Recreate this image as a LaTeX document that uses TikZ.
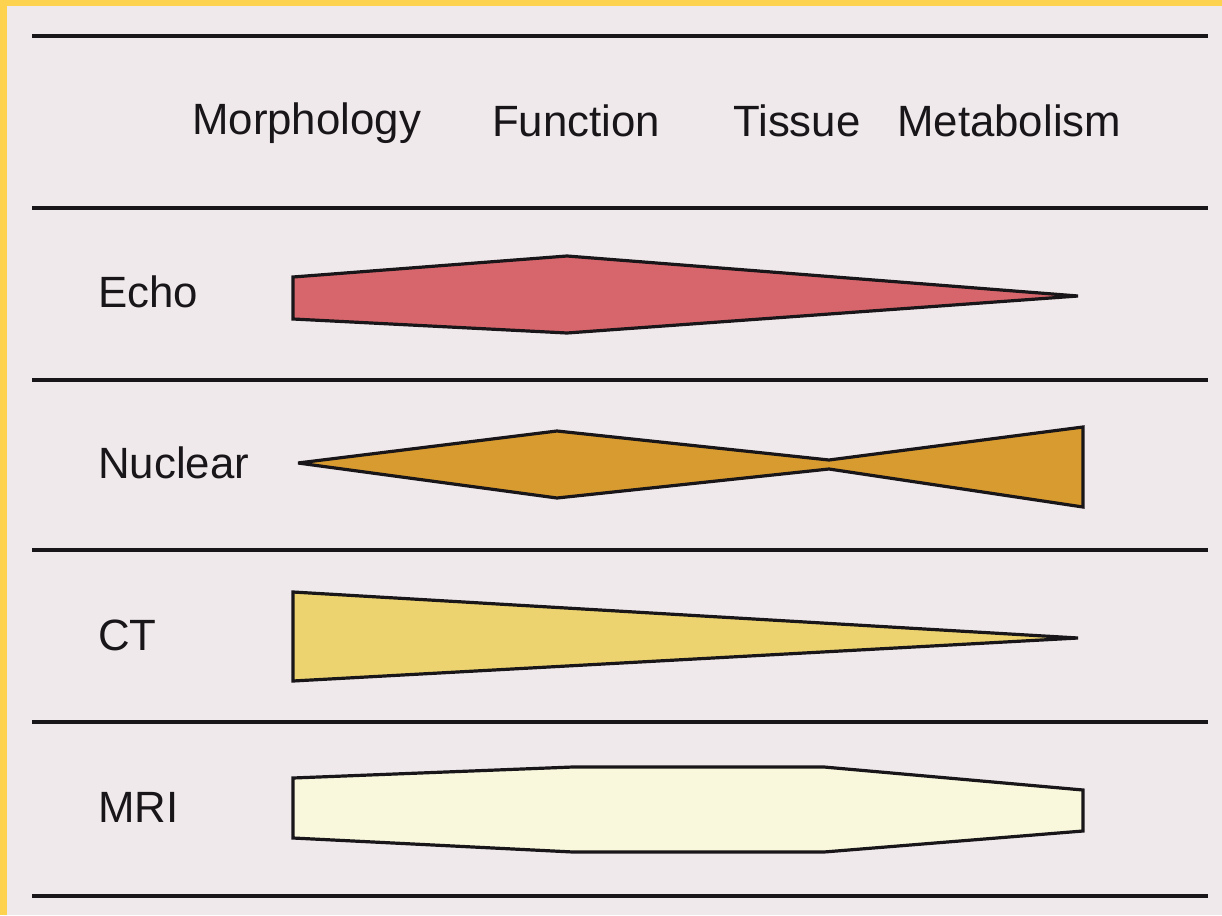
\documentclass[tikz,border=0pt]{standalone}
\usepackage{fontspec}
\setmainfont{Liberation Sans}
\definecolor{paper}{RGB}{240,233,236}
\definecolor{frame}{RGB}{253,210,78}
\definecolor{echocol}{RGB}{215,102,108}
\definecolor{nuccol}{RGB}{216,155,48}
\definecolor{ctcol}{RGB}{237,211,112}
\definecolor{mricol}{RGB}{249,247,220}
\definecolor{ink}{RGB}{25,22,25}
\tikzset{
  rule/.style={draw=ink, line width=3.2pt},
  band/.style={draw=ink, line width=3.2pt, line join=miter, miter limit=6},
  head/.style={anchor=base west, inner sep=0pt, text=ink, font=\fontsize{43.8}{50}\selectfont},
  rowlab/.style={anchor=base west, inner sep=0pt, text=ink, font=\fontsize{43.8}{50}\selectfont},
}
\begin{document}
\begin{tikzpicture}[x=1pt,y=-1pt]
\useasboundingbox (0,0) rectangle (1222,915);
\fill[frame] (0,0) rectangle (1222,915);
\fill[paper] (7,6) rectangle (1222,915);
% rules
\foreach \yy in {36,208,380,550,722,896}
  \draw[rule] (32,\yy) -- (1208,\yy);
% headers
\node[head] (morph) at (192,135) {Morphology};
\node[head] (func) at (492,136) {Function};
\node[head] (tiss) at (733,136) {Tissue};
\node[head] (meta) at (897,136) {Metabolism};
% row labels
\node[rowlab] (echo) at (98,307) {Echo};
\node[rowlab] (nuc) at (98,478) {Nuclear};
\node[rowlab] (ct) at (98,650) {CT};
\node[rowlab] (mri) at (98,822) {MRI};
% Echo
\draw[band, fill=echocol] (293,277) -- (567,256) -- (1078,296) -- (567,333) -- (293,319) -- cycle;
% Nuclear
\draw[band, fill=nuccol] (298,463) -- (557,431) -- (829,460) -- (1083,427) -- (1083,507) -- (829,469) -- (557,498) -- cycle;
% CT
\draw[band, fill=ctcol] (293,592) -- (1078,638) -- (293,681) -- cycle;
% MRI
\draw[band, fill=mricol] (293,778) -- (573,767) -- (824,767) -- (1083,790) -- (1083,831) -- (824,852) -- (573,852) -- (293,838) -- cycle;
\end{tikzpicture}
\end{document}
